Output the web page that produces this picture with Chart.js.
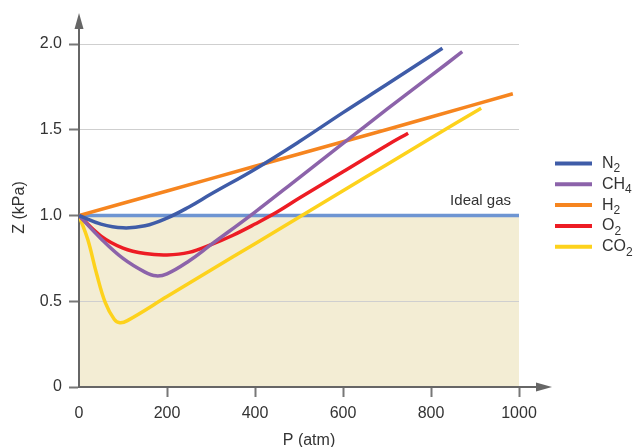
<!DOCTYPE html>
<html>
<head>
<meta charset="utf-8">
<script src="https://cdn.jsdelivr.net/npm/chart.js@4.4.1/dist/chart.umd.min.js"></script>
<style>
  html, body { margin: 0; padding: 0; background: #fff; }
  #chart { display: block; }
</style>
</head>
<body>
<canvas id="chart" width="635" height="447"></canvas>
<script>
// gases, drawn in legend order
const gasNames = ['N₂', 'CH₄', 'H₂', 'O₂', 'CO₂'];
const gasColors = ['#3f5ca8', '#8c63aa', '#f6851f', '#ed1c24', '#fdd21c'];

// pressure (atm) / compressibility readings per gas
const n2P = [0, 50, 100, 150, 200, 250, 300, 400, 500, 600, 700, 826];
const n2Z = [1.0, 0.95, 0.928, 0.94, 0.985, 1.05, 1.125, 1.27, 1.43, 1.60, 1.765, 1.975];

const ch4P = [0, 50, 100, 150, 175, 200, 250, 300, 400, 500, 600, 700, 800, 871];
const ch4Z = [1.0, 0.865, 0.75, 0.67, 0.648, 0.66, 0.735, 0.83, 1.02, 1.22, 1.42, 1.62, 1.815, 1.955];

const h2P = [0, 200, 400, 600, 800, 986];
const h2Z = [1.0, 1.143, 1.287, 1.43, 1.574, 1.71];

const o2P = [0, 50, 100, 150, 200, 250, 300, 350, 400, 450, 500, 600, 700, 748];
const o2Z = [1.0, 0.88, 0.81, 0.778, 0.77, 0.785, 0.83, 0.885, 0.95, 1.02, 1.10, 1.255, 1.41, 1.48];

const co2P = [0, 20, 40, 60, 80, 93, 110, 200, 300, 400, 500, 600, 700, 800, 914];
const co2Z = [1.0, 0.86, 0.66, 0.49, 0.395, 0.375, 0.387, 0.527, 0.682, 0.836, 0.99, 1.144, 1.298, 1.452, 1.626];

const idealP = [0, 1000];
const idealZ = [1.0, 1.0];

const xTicks = [0, 200, 400, 600, 800, 1000];
const yTicks = [0, 0.5, 1.0, 1.5, 2.0];

const FONT = '"Liberation Sans", Arial, sans-serif';
Chart.defaults.font.family = FONT;

function pts(p, z) {
  return p.map((x, i) => ({ x: x, y: z[i] }));
}

const gasData = [pts(n2P, n2Z), pts(ch4P, ch4Z), pts(h2P, h2Z), pts(o2P, o2Z), pts(co2P, co2Z)];

const datasets = gasNames.map((name, i) => ({
  label: name,
  data: gasData[i],
  borderColor: gasColors[i],
  borderWidth: 3.5,
  pointRadius: 0,
  tension: 0.4,
  fill: false,
  order: 1
}));

datasets.push({
  label: 'Ideal gas',
  data: pts(idealP, idealZ),
  borderColor: '#6e95d2',
  borderWidth: 3.5,
  pointRadius: 0,
  fill: 'origin',
  backgroundColor: '#f3edd4',
  order: 10
});

// arrows, axis titles, "Ideal gas" note and legend with subscripts
const decor = {
  id: 'decor',
  afterDraw(chart) {
    const ctx = chart.ctx;
    const a = chart.chartArea;
    const yScale = chart.scales.y;
    ctx.save();

    ctx.strokeStyle = '#666';
    ctx.fillStyle = '#666';
    ctx.lineWidth = 2;
    ctx.beginPath();
    ctx.moveTo(a.left, a.top);
    ctx.lineTo(a.left, a.top - 17);
    ctx.stroke();
    ctx.beginPath();
    ctx.moveTo(a.left - 4.5, a.top - 15);
    ctx.lineTo(a.left, a.top - 31);
    ctx.lineTo(a.left + 4.5, a.top - 15);
    ctx.closePath();
    ctx.fill();

    ctx.beginPath();
    ctx.moveTo(a.right, a.bottom);
    ctx.lineTo(a.right + 19, a.bottom);
    ctx.stroke();
    ctx.beginPath();
    ctx.moveTo(a.right + 17, a.bottom - 4.5);
    ctx.lineTo(a.right + 33, a.bottom);
    ctx.lineTo(a.right + 17, a.bottom + 4.5);
    ctx.closePath();
    ctx.fill();

    ctx.fillStyle = '#333';
    ctx.font = '15px ' + FONT;
    ctx.textAlign = 'right';
    ctx.textBaseline = 'middle';
    ctx.fillText('Ideal gas', a.right - 8, yScale.getPixelForValue(1) - 15);

    ctx.font = '16px ' + FONT;
    ctx.textAlign = 'center';
    ctx.fillText('P (atm)', 309, 441);
    ctx.save();
    ctx.translate(20, 207.5);
    ctx.rotate(-Math.PI / 2);
    ctx.fillText('Z (kPa)', 0, 0);
    ctx.restore();

    // legend
    const lx = a.right + 36;
    gasNames.forEach((name, i) => {
      const ly = 163.5 + i * 20.8;
      ctx.strokeStyle = gasColors[i];
      ctx.lineWidth = 4;
      ctx.beginPath();
      ctx.moveTo(lx, ly);
      ctx.lineTo(lx + 37, ly);
      ctx.stroke();

      let tx = lx + 47;
      ctx.textAlign = 'left';
      ctx.fillStyle = '#333';
      for (const ch of name) {
        const code = ch.charCodeAt(0);
        if (code >= 0x2080 && code <= 0x2089) {
          const digit = String(code - 0x2080);
          ctx.font = '12px ' + FONT;
          ctx.fillText(digit, tx, ly + 5.5);
          tx += ctx.measureText(digit).width;
        } else {
          ctx.font = '16px ' + FONT;
          ctx.fillText(ch, tx, ly);
          tx += ctx.measureText(ch).width;
        }
      }
    });

    ctx.restore();
  }
};

new Chart(document.getElementById('chart'), {
  type: 'line',
  data: { datasets: datasets },
  plugins: [decor],
  options: {
    responsive: false,
    animation: false,
    layout: { padding: { left: 0, right: 116, top: 44, bottom: 0 } },
    plugins: {
      legend: { display: false },
      tooltip: { enabled: false },
      filler: { drawTime: 'beforeDraw' }
    },
    scales: {
      x: {
        type: 'linear',
        min: 0,
        max: 1000,
        afterFit(scale) { scale.height = 60; },
        afterBuildTicks(scale) { scale.ticks = xTicks.map(v => ({ value: v })); },
        ticks: { color: '#333', font: { size: 16 }, padding: 7, maxRotation: 0, callback: v => String(v) },
        grid: {
          drawOnChartArea: false,
          tickLength: 10,
          tickWidth: 2,
          tickColor: c => (c.tick && c.tick.value === 0 ? 'rgba(0,0,0,0)' : '#777')
        },
        border: { color: '#666', width: 2 }
      },
      y: {
        min: 0,
        max: 2,
        afterFit(scale) { scale.width = 79; },
        afterBuildTicks(scale) { scale.ticks = yTicks.map(v => ({ value: v })); },
        ticks: {
          color: '#333',
          font: { size: 16 },
          padding: 7,
          callback: v => (v === 0 ? '0' : v.toFixed(1))
        },
        grid: { color: '#cfcfcf', lineWidth: 1, tickLength: 10, tickWidth: 2, tickColor: '#777' },
        border: { color: '#666', width: 2 }
      }
    }
  }
});
</script>
</body>
</html>
